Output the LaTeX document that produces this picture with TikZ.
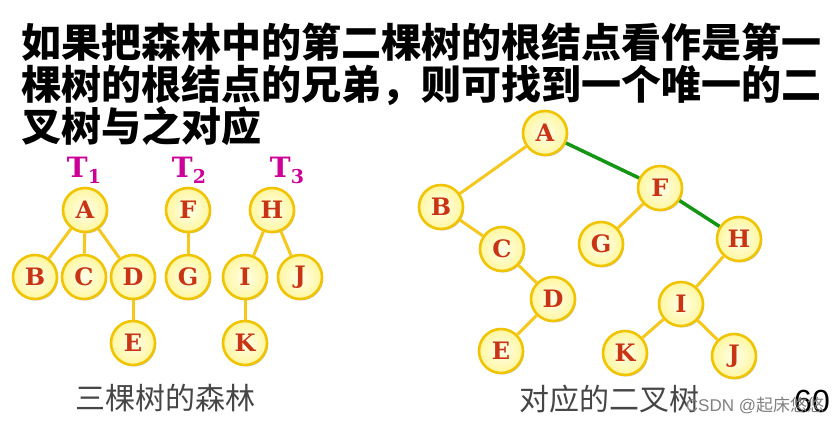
\documentclass[tikz,border=0pt]{standalone}
\usepackage{fontspec}
\newfontfamily\cjk{Noto Sans CJK SC}
\newfontfamily\serb{DejaVu Serif}
\newfontfamily\lsans{Liberation Sans}
\usetikzlibrary{shadows}
\definecolor{nodeline}{RGB}{240,196,0}
\definecolor{nodein}{RGB}{255,255,235}
\definecolor{nodeout}{RGB}{255,246,160}
\definecolor{nodetext}{RGB}{200,52,20}
\definecolor{edgey}{RGB}{246,200,30}
\definecolor{edgeg}{RGB}{20,150,20}
\definecolor{tmag}{RGB}{204,0,153}
\definecolor{capgray}{RGB}{70,70,70}
\begin{document}
\begin{tikzpicture}[x=1pt,y=-1pt,
  nd/.style={circle, minimum size=44pt, inner sep=0pt, draw=nodeline, line width=2.6pt,
    inner color=nodein, outer color=nodeout,
    drop shadow={shadow xshift=1.2pt, shadow yshift=-1.5pt, fill=black!40},
    font=\serb\bfseries\fontsize{24}{24}\selectfont, text=nodetext},
  ye/.style={draw=edgey, line width=3pt},
  ge/.style={draw=edgeg, line width=3.5pt},
  tl/.style={font=\serb\bfseries\fontsize{28}{28}\selectfont, text=tmag, inner sep=0pt, anchor=base},
  ttl/.style={font=\cjk\bfseries\fontsize{40}{40}\selectfont, text=black, inner sep=0pt, anchor=base west},
  captxt/.style={font=\cjk\fontsize{30}{30}\selectfont, text=capgray, inner sep=0pt}]
\useasboundingbox[fill=white] (0,0) rectangle (838,424);
% title
\node[ttl] (t1) at (21,57) {如果把森林中的第二棵树的根结点看作是第一};
\node[ttl] (t2) at (21,99) {棵树的根结点的兄弟，则可找到一个唯一的二};
\node[ttl] (t3) at (21,141) {叉树与之对应};
% forest labels
\node[tl] (T1) at (84,177) {T\raisebox{-6pt}{\fontsize{19}{19}\selectfont 1}};
\node[tl] (T2) at (189,177) {T\raisebox{-6pt}{\fontsize{19}{19}\selectfont 2}};
\node[tl] (T3) at (287,177) {T\raisebox{-6pt}{\fontsize{19}{19}\selectfont 3}};
% forest
\node[nd] (a1) at (85,210) {A};
\node[nd] (b1) at (35,277) {B};
\node[nd] (c1) at (84,277) {C};
\node[nd] (d1) at (133,277) {D};
\node[nd] (e1) at (133,343) {E};
\node[nd] (f1) at (188,210) {F};
\node[nd] (g1) at (188,277) {G};
\node[nd] (h1) at (272,210) {H};
\node[nd] (i1) at (245,277) {I};
\node[nd] (j1) at (300,277) {J};
\node[nd] (k1) at (245,343) {K};
\draw[ye] (a1) -- (b1);
\draw[ye] (a1) -- (c1);
\draw[ye] (a1) -- (d1);
\draw[ye] (d1) -- (e1);
\draw[ye] (f1) -- (g1);
\draw[ye] (h1) -- (i1);
\draw[ye] (h1) -- (j1);
\draw[ye] (i1) -- (k1);
% binary tree
\node[nd] (a2) at (545,133) {A};
\node[nd] (b2) at (441,207) {B};
\node[nd] (c2) at (502,249) {C};
\node[nd] (d2) at (553,299) {D};
\node[nd] (e2) at (501,351) {E};
\node[nd] (f2) at (660,188) {F};
\node[nd] (g2) at (601,244) {G};
\node[nd] (h2) at (739,239) {H};
\node[nd] (i2) at (681,304) {I};
\node[nd] (k2) at (625,353) {K};
\node[nd] (j2) at (734,356) {J};
\draw[ye] (a2) -- (b2);
\draw[ge] (a2) -- (f2);
\draw[ye] (b2) -- (c2);
\draw[ye] (c2) -- (d2);
\draw[ye] (d2) -- (e2);
\draw[ye] (f2) -- (g2);
\draw[ge] (f2) -- (h2);
\draw[ye] (h2) -- (i2);
\draw[ye] (i2) -- (k2);
\draw[ye] (i2) -- (j2);
% captions
\node[captxt] (cl) at (165,398) {三棵树的森林};
\node[captxt] (cr) at (609,399) {对应的二叉树};
\node[font=\lsans\fontsize{32}{32}\selectfont, inner sep=0pt] (pg) at (812,401) {60};
\node[font=\cjk\fontsize{17}{17}\selectfont, text=black!50, inner sep=0pt] (wm) at (755,405) {\lsans CSDN @\cjk 起床悠悠};
\end{tikzpicture}
\end{document}
